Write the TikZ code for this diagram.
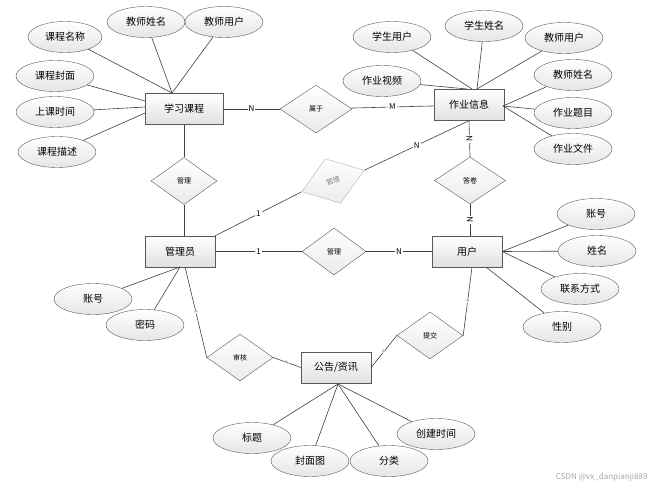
\documentclass[tikz,border=0pt]{standalone}
\usepackage{fontspec}
\setmainfont{Noto Sans CJK SC}
\usetikzlibrary{shapes.geometric}

\begin{document}
\begin{tikzpicture}[x=1pt, y=-1pt]
  \tikzstyle{entity} = [draw=black!65, top color=white, bottom color=black!12, minimum width=70pt, minimum height=31pt, font=\fontsize{10}{12}\selectfont]
  \tikzstyle{attr} = [draw=black!65, ellipse, top color=white, bottom color=black!10, minimum width=78pt, minimum height=31pt, inner sep=0pt, font=\fontsize{10}{12}\selectfont]
  \tikzstyle{rel} = [draw=black!65, diamond, top color=white, bottom color=black!8, minimum width=66pt, minimum height=47pt, inner sep=0pt, font=\fontsize{7}{8}\selectfont]
  \tikzstyle{line} = [draw, black!75, line width=0.6pt]
  \tikzstyle{card} = [fill=white, inner sep=1pt, text=black, font=\fontsize{8}{9}\selectfont]
  \tikzstyle{smallcard} = [fill=white, inner sep=0.3pt, text=black!70, sloped, font=\fontsize{4}{4}\selectfont]
  \useasboundingbox (0,0) rectangle (658,489);

  % entities
  \node[entity, minimum width=78pt] (course) at (184,109) {学习课程};
  \node[entity] (homework) at (469,105) {作业信息};
  \node[entity] (admin) at (180,251.5) {管理员};
  \node[entity] (user) at (467,251.5) {用户};
  \node[entity] (notice) at (336,367.5) {公告/资讯};

  % relations
  \node[rel, minimum width=72pt, minimum height=48pt] (belong) at (316,109) {属于};
  \node[rel] (manage1) at (184,181) {管理};
  \node[rel, draw=black!30, text=black!50, rotate=19] (manage2) at (333,181) {管理};
  \node[rel, minimum width=71pt] (answer) at (470,180.5) {答卷};
  \node[rel, minimum width=64pt] (manage3) at (334,251.5) {管理};
  \node[rel] (audit) at (240,357.5) {审核};
  \node[rel] (submit) at (430,335.5) {提交};

  % course attributes
  \node[attr, minimum width=74pt] (cname) at (65,37) {课程名称};
  \node[attr] (tname1) at (146,22) {教师姓名};
  \node[attr] (tuser1) at (224,22) {教师用户};
  \node[attr] (ccover) at (55,76) {课程封面};
  \node[attr] (ctime) at (55,112) {上课时间};
  \node[attr] (cdesc) at (57,152) {课程描述};

  % homework attributes
  \node[attr] (suser) at (392,37) {学生用户};
  \node[attr] (sname) at (484,26) {学生姓名};
  \node[attr] (tuser2) at (564,38) {教师用户};
  \node[attr] (hvideo) at (382,81) {作业视频};
  \node[attr] (tname2) at (573,75) {教师姓名};
  \node[attr] (htitle) at (573,113) {作业题目};
  \node[attr] (hfile) at (573,149) {作业文件};

  % admin attributes
  \node[attr] (aacc) at (93,299) {账号};
  \node[attr] (apwd) at (145,325) {密码};

  % user attributes
  \node[attr] (uacc) at (596,214) {账号};
  \node[attr] (uname) at (597,251) {姓名};
  \node[attr] (uphone) at (580,289) {联系方式};
  \node[attr] (usex) at (562,327) {性别};

  % notice attributes
  \node[attr] (ntitle) at (252,438) {标题};
  \node[attr] (ncover) at (310,461) {封面图};
  \node[attr] (ntype) at (389,461) {分类};
  \node[attr] (ntime) at (436,434) {创建时间};

  \node[text=black!35, anchor=east, font=\fontsize{8}{9}\selectfont] (wm) at (651,477) {CSDN @vx\_danpianji889};

  % ends on the boxes
  \coordinate (ct) at (172,93);
  \coordinate (cl1) at (145,101);
  \coordinate (cl2) at (145,107);
  \coordinate (cl3) at (145,113);
  \coordinate (ht1) at (472,89);
  \coordinate (ht2) at (477,89);
  \coordinate (ht3) at (467,89);
  \coordinate (hr) at (503,106);
  \coordinate (ab1) at (180,267);
  \coordinate (ab2) at (185,267);
  \coordinate (ub1) at (486,267);
  \coordinate (ub2) at (472,267);
  \coordinate (nb) at (338,384);

  % relation lines
  \path [line] (course) -- node[card] {N} (belong);
  \path [line] (belong) -- node[card] {M} (homework);
  \path [line] (course.south) -- (manage1.north);
  \path [line] (manage1.south) -- (manage1.south |- admin.north);
  \path [line] (admin.north east) -- node[card] {1} (manage2.west);
  \path [line] (manage2.east) -- node[card] {N} (homework.south);
  \path [line] (homework.south) -- node[card, rotate=90] {N} (answer.north);
  \path [line] (answer.south) -- node[card, rotate=90] {N} (answer.south |- user.north);
  \path [line] (admin) -- node[card] {1} (manage3);
  \path [line] (manage3) -- node[card] {N} (user);
  \path [line] (ab2) -- node[smallcard] {1} (audit.west);
  \path [line] (audit.east) -- node[smallcard] {N} (notice.west);
  \path [line] (notice.east) -- node[smallcard] {N} (submit.west);
  \path [line] (submit.east) -- node[smallcard] {1} (ub2);

  % attribute lines
  \path [line] (cname) -- (ct);
  \path [line] (tname1) -- (ct);
  \path [line] (tuser1) -- (ct);
  \path [line] (ccover) -- (cl1);
  \path [line] (ctime) -- (cl2);
  \path [line] (cdesc) -- (cl3);

  \path [line] (suser) -- (ht1);
  \path [line] (sname) -- (ht2);
  \path [line] (tuser2) -- (ht2);
  \path [line] (hvideo) -- (ht3);
  \path [line] (tname2) -- (hr);
  \path [line] (htitle) -- (hr);
  \path [line] (hfile) -- (hr);

  \path [line] (aacc) -- (ab1);
  \path [line] (apwd) -- (ab1);

  \path [line] (uacc) -- (user.east);
  \path [line] (uname) -- (user.east);
  \path [line] (uphone) -- (user.east);
  \path [line] (usex) -- (ub1);

  \path [line] (ntitle) -- (nb);
  \path [line] (ncover) -- (nb);
  \path [line] (ntype) -- (nb);
  \path [line] (ntime) -- (nb);

\end{tikzpicture}
\end{document}
